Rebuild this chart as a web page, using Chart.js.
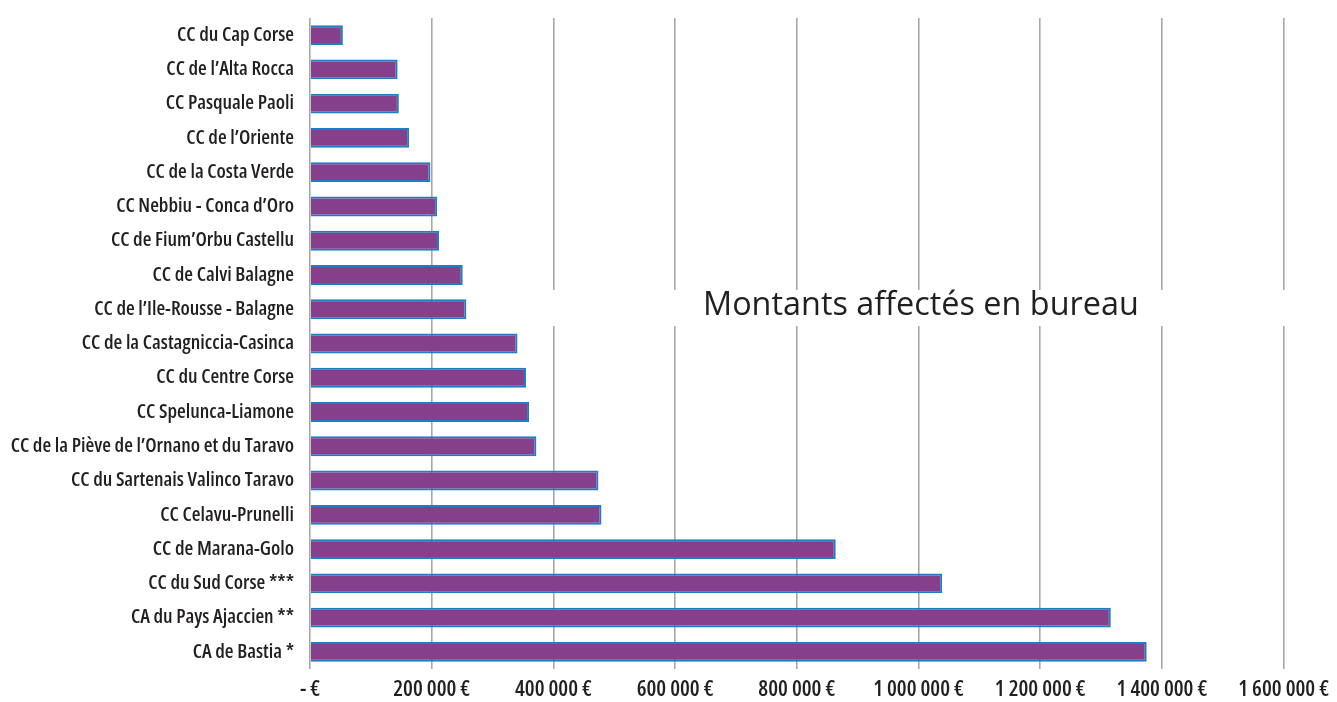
<!DOCTYPE html>
<html>
<head>
<meta charset="utf-8">
<script src="https://cdn.jsdelivr.net/npm/chart.js@4/dist/chart.umd.min.js"></script>
<style>
  html, body { margin: 0; padding: 0; background: #fff; }
  #wrap { width: 1337px; height: 702px; }
</style>
</head>
<body>
<div id="wrap"><canvas id="myChart"></canvas></div>
<script>
/* global Chart */

// categories, top to bottom
const categories = [
  'CC du Cap Corse',
  'CC de l\u2019Alta Rocca',
  'CC Pasquale Paoli',
  'CC de l\u2019Oriente',
  'CC de la Costa Verde',
  'CC Nebbiu - Conca d\u2019Oro',
  'CC de Fium\u2019Orbu Castellu',
  'CC de Calvi Balagne',
  'CC de l\u2019Ile-Rousse - Balagne',
  'CC de la Castagniccia-Casinca',
  'CC du Centre Corse',
  'CC Spelunca-Liamone',
  'CC de la Pi\u00e8ve de l\u2019Ornano et du Taravo',
  'CC du Sartenais Valinco Taravo',
  'CC Celavu-Prunelli',
  'CC de Marana-Golo',
  'CC du Sud Corse ***',
  'CA du Pays Ajaccien **',
  'CA de Bastia *'
];

// montants affectés en bureau (€)
const montants = [
  54000, 144000, 146000, 163000, 198000, 209000, 212000, 251000, 257000,
  341000, 355000, 360000, 372000, 474000, 479000, 864000, 1039000,
  1316000, 1375000
];

const xMin = 0;
const xMax = 1600000;
const xStep = 200000;
const titre = 'Montants affect\u00e9s en bureau';

// condensed face of Open Sans (weight string carries the stretch keyword)
const catFont = { family: "'Open Sans', sans-serif", size: 20, weight: '600 condensed', lineHeight: 1.2 };
const tickFont = { family: "'Open Sans', sans-serif", size: 22, weight: '600 condensed', lineHeight: 1.2 };

function euro(v) {
  if (v === 0) return '- \u20ac';
  return String(v).replace(/\B(?=(\d{3})+(?!\d))/g, ' ') + ' \u20ac';
}

// white box with the title, drawn over the gridlines
const titlePlugin = {
  id: 'titleBox',
  beforeDatasetsDraw(chart) {
    const ctx = chart.ctx;
    ctx.save();
    ctx.fillStyle = '#ffffff';
    ctx.fillRect(500, 290, chart.width - 500, 36);
    let size = 30;
    ctx.font = '400 ' + size + "px 'Open Sans', sans-serif";
    const w = ctx.measureText(titre).width;
    size = size * 436 / w;
    ctx.font = '400 ' + size.toFixed(1) + "px 'Open Sans', sans-serif";
    ctx.fillStyle = '#231f20';
    ctx.textBaseline = 'alphabetic';
    ctx.textAlign = 'left';
    ctx.fillText(titre, 703, 315);
    ctx.restore();
  }
};

const ctx = document.getElementById('myChart').getContext('2d');
const myChart = new Chart(ctx, {
  type: 'bar',
  data: {
    labels: categories,
    datasets: [{
      label: titre,
      data: montants,
      backgroundColor: '#863f8a',
      borderColor: '#1c7fc5',
      borderWidth: 2,
      barPercentage: 0.58,
      categoryPercentage: 1
    }]
  },
  plugins: [titlePlugin],
  options: {
    indexAxis: 'y',
    responsive: true,
    maintainAspectRatio: false,
    animation: false,
    layout: { padding: { top: 18, right: 51, left: 0, bottom: 0 } },
    plugins: {
      legend: { display: false },
      tooltip: { enabled: false },
      title: { display: false }
    },
    scales: {
      x: {
        min: xMin,
        max: xMax,
        ticks: {
          stepSize: xStep,
          padding: 8,
          color: '#231f20',
          font: tickFont,
          callback: function (v) { return euro(v); },
          maxRotation: 0
        },
        grid: { color: '#a8a8aa', lineWidth: 1.6, drawTicks: false },
        border: { display: false },
        afterFit: function (scale) { scale.height = 33; }
      },
      y: {
        ticks: {
          padding: 16,
          color: '#231f20',
          font: catFont,
          autoSkip: false
        },
        grid: { display: false, drawTicks: false },
        border: { display: false },
        afterFit: function (scale) {
          scale.width = 310;
          scale.paddingTop = 0;
          scale.paddingBottom = 0;
        }
      }
    }
  }
});
</script>
</body>
</html>
